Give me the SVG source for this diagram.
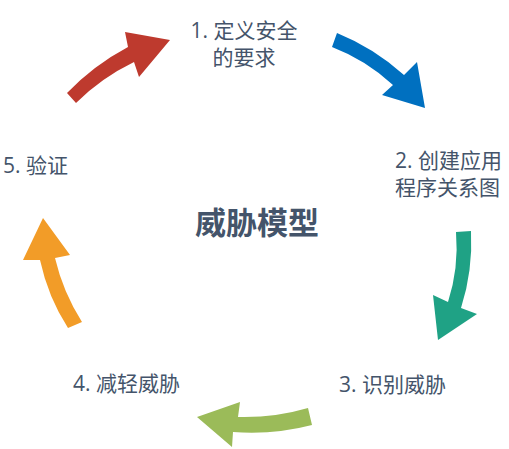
<svg xmlns="http://www.w3.org/2000/svg" width="509" height="449" viewBox="0 0 509 449">
<style>
.t{font-family:'Open Sans','Noto Sans CJK SC',sans-serif;font-size:21px;fill:#44546A}
.c{font-family:'Noto Sans CJK SC',sans-serif;font-size:31px;font-weight:bold;fill:#44546A}
</style>
<rect width="509" height="449" fill="#fff"/>
<g id="connectors">
<path id="a1" d="M67,93 Q94,65 128,47 L125,32 L170,40 L139,77 L134,62 Q101,78 76,103 Z" fill="#BE3A2E"/>
<path id="a2" d="M337,33 Q374,48 404,75 L417,62 L425,108 L382,95 L393,85 Q366,60 332,47 Z" fill="#0070C0"/>
<path id="a3" d="M456,232 L471,231 Q473,271 461,308 L477,314 L438,340 L433,295 L448,302 Q459,268 456,232 Z" fill="#1FA285"/>
<path id="a4" d="M308,408 Q274,418 238,417 L240,402 L197,417 L232,447 L233,432 Q274,435 312,425 Z" fill="#9BBB59"/>
<path id="a5" d="M82,322 Q63,292 55,258 L70,255 L43,218 L23,260 L40,260 Q48,297 68,328 Z" fill="#F29C28"/>
</g>
<g id="center"><text class="c" x="257" y="234" text-anchor="middle">威胁模型</text></g>
<g id="n1"><text class="t" x="244" y="38" text-anchor="middle">1. 定义安全</text><text class="t" x="244" y="65" text-anchor="middle">的要求</text></g>
<g id="n2"><text class="t" x="395" y="168">2. 创建应用</text><text class="t" x="395" y="195">程序关系图</text></g>
<g id="n3"><text class="t" x="339" y="392">3. 识别威胁</text></g>
<g id="n4"><text class="t" x="73" y="391">4. 减轻威胁</text></g>
<g id="n5"><text class="t" x="3" y="173">5. 验证</text></g>
</svg>
